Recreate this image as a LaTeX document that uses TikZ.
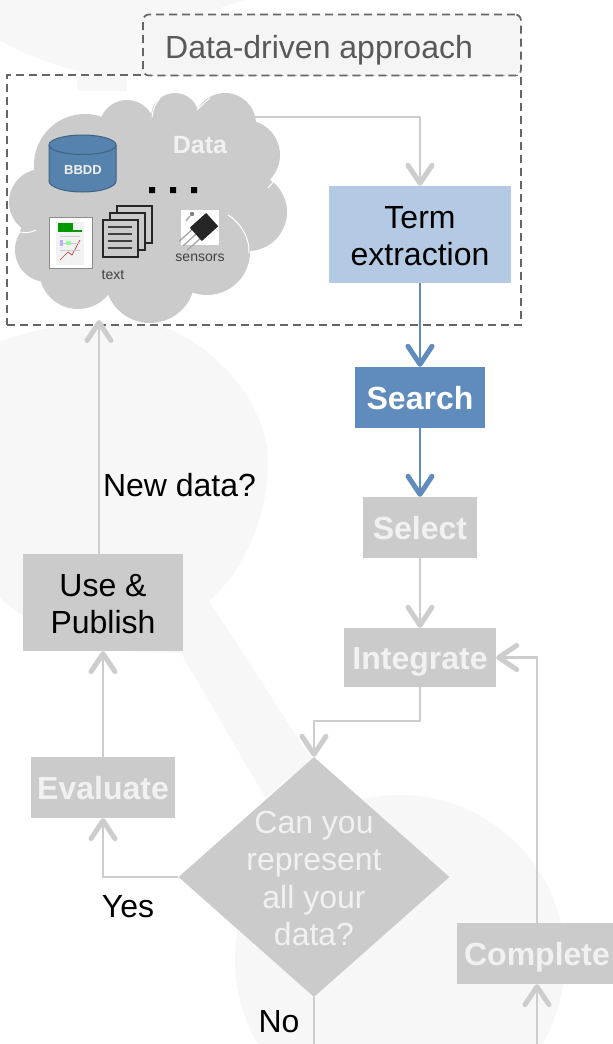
\documentclass[tikz,border=0pt]{standalone}
\usepackage{fontspec}
\setmainfont{Liberation Sans}
\usetikzlibrary{arrows.meta,shapes.geometric}
\definecolor{wm}{HTML}{F7F7F7}
\definecolor{gbox}{HTML}{CBCBCB}
\definecolor{gline}{HTML}{CDCDCD}
\definecolor{blueln}{HTML}{608CBD}
\definecolor{bluelt}{HTML}{B4C9E3}
\definecolor{dbcol}{HTML}{5682AE}
\definecolor{dashcol}{HTML}{666666}
\definecolor{softw}{HTML}{F1F1F1}
\tikzset{
  big/.style={font=\fontsize{32}{37.5}\selectfont},
  tight/.style={font=\fontsize{32}{37}\selectfont},
  boldone/.style={font=\fontsize{32}{37}\selectfont\bfseries,text height=23pt,text depth=0pt},
  boxnode/.style={rectangle,inner sep=0pt,align=center},
  graybold/.style={boxnode,boldone,fill=gbox,text=softw},
  twoline/.style={boxnode,tight,text=black,text height=63pt},
  label/.style={inner sep=0pt,text=black,big},
  conn/.style={draw=gline,line width=2.4pt,-{Straight Barb[length=18pt,width=24pt,line width=5pt,round]}},
  connb/.style={draw=blueln,line width=2.4pt,-{Straight Barb[length=18pt,width=24pt,line width=5pt,round]}},
  plain/.style={draw=gline,line width=2.4pt},
  dashbox/.style={draw=dashcol,line width=1.7pt,dash pattern=on 8pt off 5pt,inner sep=0pt},
  page/.style={draw=black!85,line width=1.2pt,fill=gbox},
  small/.style={inner sep=0pt,text=black!75,font=\fontsize{14}{16}\selectfont},
}
\begin{document}
\begin{tikzpicture}[x=1pt,y=-1pt]
\useasboundingbox (0,0) rectangle (613,1044);
\fill[white] (0,0) rectangle (613,1044);
% watermark
\begin{scope}
\clip (0,0) rectangle (613,1044);
\fill[wm] (0,0) -- (245,0) .. controls (190,15) and (160,40) .. (143,76) -- (100,76) .. controls (60,68) and (25,55) .. (0,40) -- cycle;
\fill[wm] (0,342) .. controls (45,322) and (130,318) .. (172,330)
  .. controls (225,355) and (268,410) .. (268,462)
  .. controls (268,520) and (240,575) .. (209,601)
  -- (312,760) -- (265,797) -- (181,653) -- (100,650)
  .. controls (60,640) and (25,620) .. (0,598) -- cycle;
\fill[wm] (400,960) circle (165);
\end{scope}
% frames
\node[dashbox,fill=white,minimum width=514pt,minimum height=250pt] (frame) at (264,200) {};
\fill[wm] (77,76) rectangle (127,91);
\node[dashbox,fill=wm!95!gbox,rounded corners=6pt,minimum width=378pt,minimum height=61pt] (title) at (332,45) {};
\node[inner sep=0pt,anchor=west,text=black!65,big] (titletext) at (165,50.5) {Data-driven approach};
% cloud
\fill[gbox] (42,202) circle (33) (85,165) circle (51) (127,128) circle (28) (175,117) circle (24)
  (225,124) circle (31) (245,155) circle (35) (248,212) circle (39) (207,252) circle (43)
  (150,278) circle (45) (78,270) circle (39) (47,250) circle (32);
\fill[gbox] (20,232) -- (34,172) -- (100,118) -- (152,115) -- (197,110) -- (255,125) -- (270,178)
  -- (250,253) -- (188,290) -- (112,293) -- (45,280) -- cycle;
\draw[white,line width=1pt] (228,215) .. controls (240,222) and (250,238) .. (249,253);
\draw[white,line width=1pt] (268,188) .. controls (274,182) and (277,176) .. (279,170);
\draw[white,line width=1pt] (152,117) .. controls (153,108) and (156,103) .. (160,98);
\draw[white,line width=1pt] (197,110) .. controls (201,106) and (205,102) .. (210,98);
\draw[white,line width=1pt] (20,232) .. controls (26,233) and (30,233) .. (36,230);
\node[inner sep=0pt,text=softw,font=\fontsize{25}{28}\selectfont\bfseries] (datalabel) at (200,145) {Data};
% database
\draw[draw=dbcol!75!black,line width=1pt,fill=dbcol] (49,145) -- (49,181) arc[start angle=180,end angle=0,x radius=33.5,y radius=11] -- (116,145) arc[start angle=0,end angle=-180,x radius=33.5,y radius=10];
\draw[draw=dbcol!75!black,line width=1pt] (49,145) arc[start angle=180,end angle=0,x radius=33.5,y radius=9.5];
\node[inner sep=0pt,text=softw,font=\fontsize{13}{15}\selectfont\bfseries] (bbdd) at (83,170) {BBDD};
% dots
\fill[black] (149,187) rectangle (155,193) (170,187) rectangle (176,193) (191,187) rectangle (197,193);
% xls icon
\draw[draw=black!45,line width=1pt,fill=white] (49,217) rectangle (92,268);
\fill[black!5] (56,222) rectangle (84,265);
\fill[green!60!black] (58,223) rectangle (73,232);
\fill[green!60!black] (73,230) rectangle (82,232);
\draw[red!50!gray,line width=.7pt] (60,260) -- (68,252) -- (72,255) -- (80,240);
\draw[black!20,line width=.5pt] (60,236) -- (80,236) (60,243) -- (80,243) (60,250) -- (80,250);
\fill[blue!30] (60,240) rectangle (63,246);
\fill[green!40] (66,241) rectangle (71,245);
% pages
\draw[page] (117,206) rectangle (152,243);
\draw[page] (110,213) rectangle (145,250);
\draw[page] (103,220) rectangle (138,257);
\draw[black!75,line width=1.5pt] (108,227) -- (132,227) (108,234) -- (132,234) (108,241) -- (132,241) (108,248) -- (132,248);
\node[small] (textlabel) at (113,275) {text};
% sensor icon
\fill[white] (181,210) rectangle (219,245);
\begin{scope}[rotate around={42:(204,227)}]
\draw[black!35,line width=1.3pt] (194,221) -- (176,221) (194,227) -- (176,227) (194,233) -- (176,233);
\fill[black!85] (193,218) rectangle (215,236);
\end{scope}
\fill[black!50] (192,214) circle (2.2);
\draw[black!30,line width=1.5pt] (190,216) -- (186,221);
\node[small] (sensorlabel) at (200,258) {sensors};
% nodes
\node[twoline,fill=bluelt,minimum width=182pt,minimum height=97pt] (term) at (420,234.5) {Term\\extraction};
\node[boxnode,boldone,fill=blueln,text=white,minimum width=130pt,minimum height=61pt] (search) at (420,397.5) {Search};
\node[graybold,minimum width=114pt,minimum height=61pt] (select) at (420,527.5) {Select};
\node[graybold,minimum width=152pt,minimum height=59pt] (integrate) at (420,657.5) {Integrate};
\node[diamond,shape aspect=1.13,fill=gbox,inner sep=0pt,minimum width=271pt,minimum height=240pt] (decide) at (314,877) {};
\node[inner sep=0pt,align=center,text=softw,big] (decidetext) at (314,878.5) {Can you\\represent\\all your\\data?};
\node[graybold,minimum width=144pt,minimum height=61pt] (evaluate) at (103,787.5) {Evaluate};
\node[twoline,fill=gbox,minimum width=160pt,minimum height=97pt] (use) at (103,602.5) {Use \&\\Publish};
\node[graybold,minimum width=160pt,minimum height=61pt] (complete) at (537,953.5) {Complete};
% free ends
\coordinate (cloudE) at (253,117);
\coordinate (cloudS) at (99,320);
\coordinate (useTop) at (99,554);
\coordinate (bottomN) at (314,1044);
\coordinate (bottomC) at (537,1044);
% connectors
\draw[conn] (cloudE) -| (term.north);
\draw[connb] (term.south) -- (search.north);
\draw[connb] (search.south) -- (select.north);
\draw[conn] (select.south) -- (integrate.north);
\draw[conn] (integrate.south) -- ++(0,34) -| (decide.north);
\draw[conn] (decide.west) -| (evaluate.south);
\draw[conn] (evaluate.north) -- (use.south);
\draw[conn] (useTop) -- (cloudS);
\draw[conn] (complete.north) |- (integrate.east);
\draw[plain] (decide.south) -- (bottomN);
\draw[conn] (bottomC) -- (complete.south);
% labels
\node[label] (newdata) at (179.5,485) {New data?};
\node[label] (yes) at (128,907) {Yes};
\node[label] (no) at (279,1022) {No};
\end{tikzpicture}
\end{document}
